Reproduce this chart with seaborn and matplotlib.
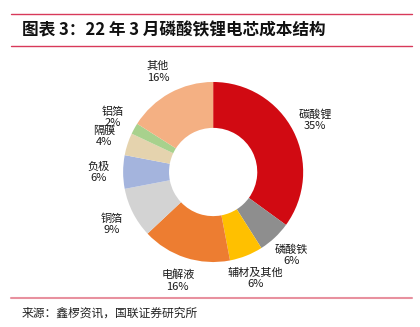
import matplotlib
matplotlib.use("Agg")
import matplotlib.pyplot as plt
from matplotlib.lines import Line2D
import seaborn as sns

categories = ["碳酸锂", "磷酸铁", "辅材及其他", "电解液", "铜箔", "负极", "隔膜", "铝箔", "其他"]
values = [35, 6, 6, 16, 9, 6, 4, 2, 16]
colors = ["#D10A12", "#8E8E8E", "#FFC000", "#ED7D31", "#D3D3D3", "#A4B4DD", "#E5D3AE", "#A8D18D", "#F4B083"]
title = "图表 3：22 年 3 月磷酸铁锂电芯成本结构"
source = "来源：鑫椤资讯，国联证券研究所"

sns.set_theme(style="white")
plt.rcParams['font.family'] = ['Noto Sans CJK SC', 'DejaVu Sans']

fig = plt.figure(figsize=(4.2, 3.27), dpi=100)
ax = fig.add_axes([0.186, 0.061, 0.643, 0.826])

labels = [f"{c}\n{v}%" for c, v in zip(categories, values)]
wedges, texts = ax.pie(values, colors=colors, startangle=90, counterclock=False,
                       labels=labels, labeldistance=1.27,
                       wedgeprops=dict(width=0.51, linewidth=0),
                       textprops=dict(fontsize=8, color="#1a1a1a"))
for t in texts:
    t.set_ha("center")
    t.set_va("center")
    t.set_multialignment("center")
    t.set_linespacing(1.15)
ax.set_xlim(-1.5, 1.5)
ax.set_ylim(-1.5, 1.5)
ax.set_aspect("equal")
ax.axis("off")

fig.add_artist(Line2D([0.027, 0.981], [0.957, 0.957], color="#D8395A", lw=1.0))
fig.add_artist(Line2D([0.027, 0.981], [0.860, 0.860], color="#D8395A", lw=1.0))
fig.add_artist(Line2D([0.027, 0.981], [0.089, 0.089], color="#E8919F", lw=1.5))
fig.text(0.052, 0.906, title, fontsize=12, fontweight="bold", style="italic",
         va="center", ha="left", color="#111111")
fig.text(0.052, 0.043, source, fontsize=8.5, va="center", ha="left", color="#222222")

fig.savefig("out.png", dpi=100)
